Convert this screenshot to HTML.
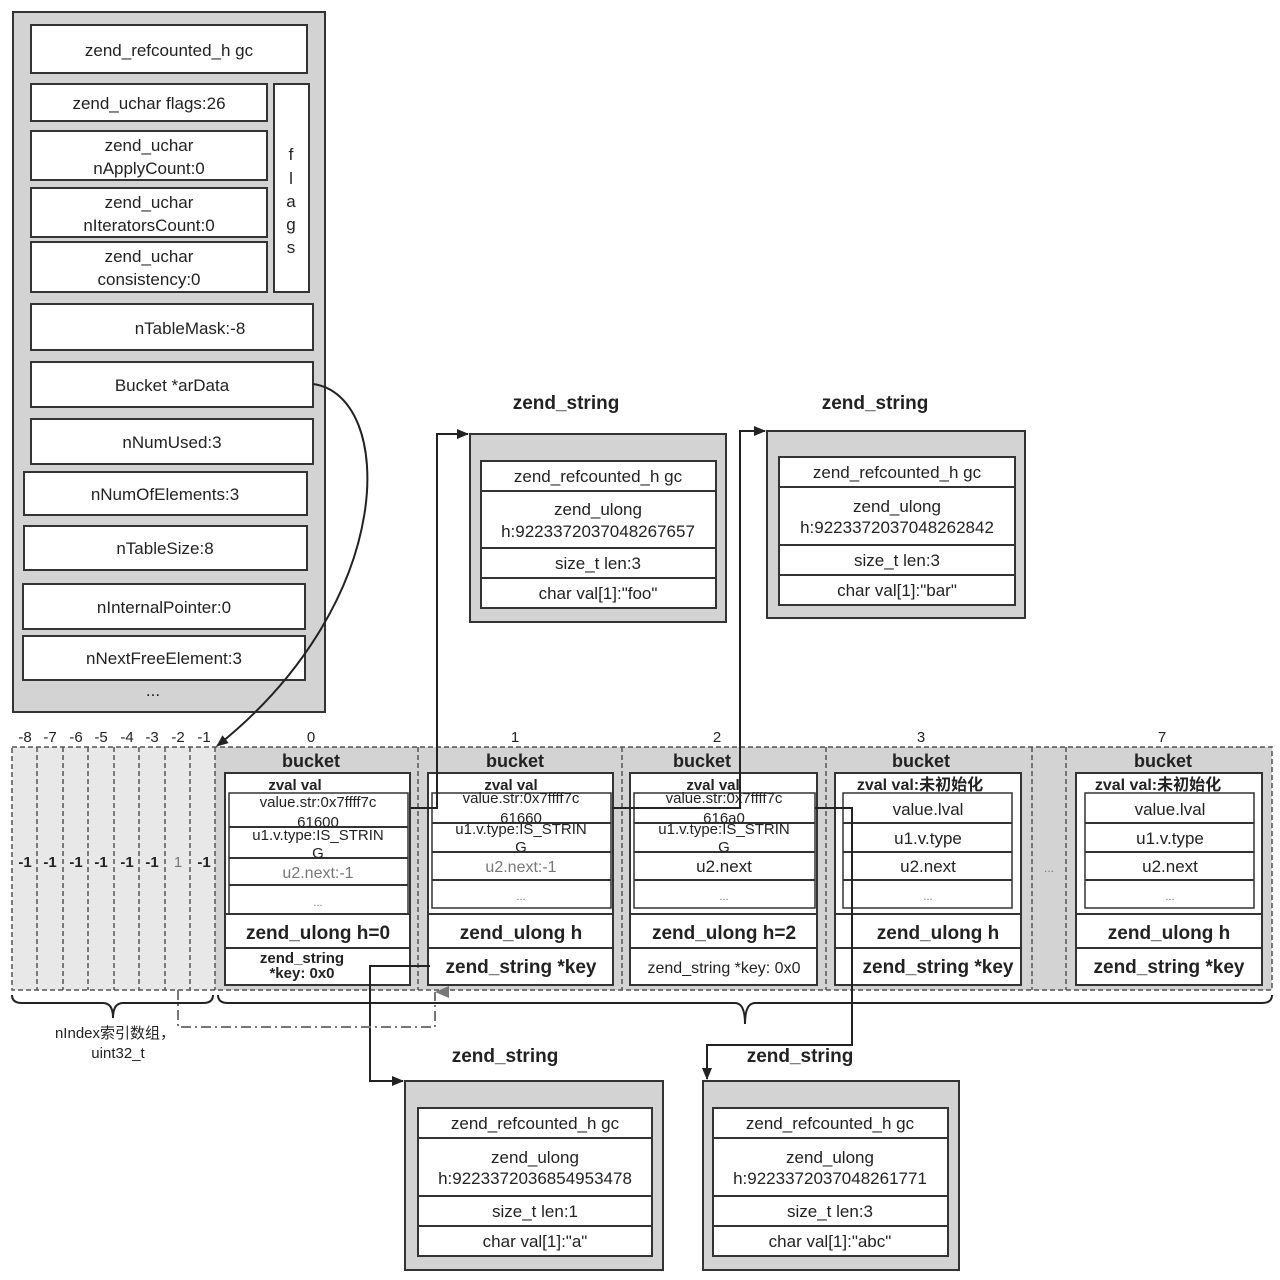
<!DOCTYPE html>
<html><head><meta charset="utf-8"><style>
html,body{margin:0;padding:0;background:#fff;}
svg{display:block;font-family:"Liberation Sans","Noto Sans CJK SC",sans-serif;}
.t{font-size:17px;fill:#222;text-anchor:middle;}
.g{font-size:16px;fill:#777;text-anchor:middle;}
.b{font-size:18px;font-weight:bold;fill:#222;text-anchor:middle;}
.bb{font-size:19px;font-weight:bold;fill:#222;text-anchor:middle;}
.s{font-size:15px;font-weight:bold;fill:#222;text-anchor:middle;}
.w{fill:#fff;stroke:#333;stroke-width:2;}
.p{fill:#d3d3d3;stroke:#333;stroke-width:2;}
.d{fill:none;stroke:#555;stroke-width:1.5;stroke-dasharray:5,3;}
.l{fill:none;stroke:#222;stroke-width:2;}
</style></head><body>
<svg width="1280" height="1280" viewBox="0 0 1280 1280" xmlns="http://www.w3.org/2000/svg">
<defs>
<marker id="ar" markerWidth="12" markerHeight="10" refX="11" refY="5" orient="auto" markerUnits="userSpaceOnUse"><path d="M0,0 L12,5 L0,10 z" fill="#222"/></marker>
<marker id="ag" markerWidth="12" markerHeight="14" refX="6" refY="0" orient="auto" markerUnits="userSpaceOnUse"><path d="M0,14 L6,0 L12,14 z" fill="#777"/></marker>
</defs>

<!-- top-left HashTable struct -->
<rect x="13" y="12" width="312" height="700" class="p"/>
<rect x="31" y="25" width="276" height="48" class="w"/><text x="169" y="56" class="t">zend_refcounted_h gc</text>
<rect x="31" y="84" width="236" height="37" class="w"/><text x="149" y="109" class="t">zend_uchar flags:26</text>
<rect x="31" y="131" width="236" height="49" class="w"/><text x="149" y="151" class="t">zend_uchar</text><text x="149" y="174" class="t">nApplyCount:0</text>
<rect x="31" y="188" width="236" height="49" class="w"/><text x="149" y="208" class="t">zend_uchar</text><text x="149" y="231" class="t">nIteratorsCount:0</text>
<rect x="31" y="242" width="236" height="50" class="w"/><text x="149" y="262" class="t">zend_uchar</text><text x="149" y="285" class="t">consistency:0</text>
<rect x="274" y="84" width="35" height="208" class="w"/>
<text x="291" y="160" class="t">f</text><text x="291" y="184" class="t">l</text><text x="291" y="207" class="t">a</text><text x="291" y="230" class="t">g</text><text x="291" y="253" class="t">s</text>
<rect x="31" y="304" width="282" height="46" class="w"/><text x="190" y="334" class="t">nTableMask:-8</text>
<rect x="31" y="362" width="282" height="45" class="w"/><text x="172" y="391" class="t">Bucket *arData</text>
<rect x="31" y="419" width="282" height="45" class="w"/><text x="172" y="448" class="t">nNumUsed:3</text>
<rect x="24" y="472" width="283" height="43" class="w"/><text x="165" y="500" class="t">nNumOfElements:3</text>
<rect x="24" y="526" width="283" height="44" class="w"/><text x="165" y="554" class="t">nTableSize:8</text>
<rect x="23" y="584" width="282" height="45" class="w"/><text x="164" y="613" class="t">nInternalPointer:0</text>
<rect x="23" y="636" width="282" height="44" class="w"/><text x="164" y="664" class="t">nNextFreeElement:3</text>
<text x="153" y="696" class="t">...</text>

<!-- zend_string boxes -->
<text x="566" y="409" class="bb">zend_string</text>
<rect x="470" y="434" width="256" height="188" class="p"/>
<rect x="481" y="461" width="235" height="30" class="w"/><text x="598" y="482" class="t">zend_refcounted_h gc</text>
<rect x="481" y="491" width="235" height="57" class="w"/><text x="598" y="515" class="t">zend_ulong</text><text x="598" y="537" class="t">h:9223372037048267657</text>
<rect x="481" y="548" width="235" height="30" class="w"/><text x="598" y="569" class="t">size_t len:3</text>
<rect x="481" y="578" width="235" height="30" class="w"/><text x="598" y="599" class="t">char val[1]:"foo"</text>

<text x="875" y="409" class="bb">zend_string</text>
<rect x="767" y="431" width="258" height="187" class="p"/>
<rect x="779" y="457" width="236" height="30" class="w"/><text x="897" y="478" class="t">zend_refcounted_h gc</text>
<rect x="779" y="487" width="236" height="58" class="w"/><text x="897" y="512" class="t">zend_ulong</text><text x="897" y="533" class="t">h:9223372037048262842</text>
<rect x="779" y="545" width="236" height="30" class="w"/><text x="897" y="566" class="t">size_t len:3</text>
<rect x="779" y="575" width="236" height="30" class="w"/><text x="897" y="596" class="t">char val[1]:"bar"</text>

<text x="505" y="1062" class="bb">zend_string</text>
<rect x="405" y="1081" width="258" height="189" class="p"/>
<rect x="418" y="1108" width="234" height="30" class="w"/><text x="535" y="1129" class="t">zend_refcounted_h gc</text>
<rect x="418" y="1138" width="234" height="58" class="w"/><text x="535" y="1163" class="t">zend_ulong</text><text x="535" y="1184" class="t">h:9223372036854953478</text>
<rect x="418" y="1196" width="234" height="30" class="w"/><text x="535" y="1217" class="t">size_t len:1</text>
<rect x="418" y="1226" width="234" height="30" class="w"/><text x="535" y="1247" class="t">char val[1]:"a"</text>

<text x="800" y="1062" class="bb">zend_string</text>
<rect x="703" y="1081" width="256" height="189" class="p"/>
<rect x="713" y="1108" width="235" height="30" class="w"/><text x="830" y="1129" class="t">zend_refcounted_h gc</text>
<rect x="713" y="1138" width="235" height="58" class="w"/><text x="830" y="1163" class="t">zend_ulong</text><text x="830" y="1184" class="t">h:9223372037048261771</text>
<rect x="713" y="1196" width="235" height="30" class="w"/><text x="830" y="1217" class="t">size_t len:3</text>
<rect x="713" y="1226" width="235" height="30" class="w"/><text x="830" y="1247" class="t">char val[1]:"abc"</text>

<!-- array area -->
<rect x="12" y="747" width="203" height="243" fill="#e8e8e8"/>
<rect x="215" y="747" width="1057" height="243" fill="#d3d3d3"/>
<rect x="12" y="747" width="1260" height="243" class="d"/>
<g class="d">
<line x1="37" y1="747" x2="37" y2="990"/><line x1="63" y1="747" x2="63" y2="990"/><line x1="88" y1="747" x2="88" y2="990"/><line x1="114" y1="747" x2="114" y2="990"/><line x1="139" y1="747" x2="139" y2="990"/><line x1="165" y1="747" x2="165" y2="990"/><line x1="190" y1="747" x2="190" y2="990"/><line x1="215" y1="747" x2="215" y2="990"/>
<line x1="418" y1="747" x2="418" y2="990"/><line x1="622" y1="747" x2="622" y2="990"/><line x1="826" y1="747" x2="826" y2="990"/><line x1="1032" y1="747" x2="1032" y2="990"/><line x1="1066" y1="747" x2="1066" y2="990"/>
</g>
<g class="t" style="font-size:15px">
<text x="25" y="742">-8</text><text x="50" y="742">-7</text><text x="76" y="742">-6</text><text x="101" y="742">-5</text><text x="127" y="742">-4</text><text x="152" y="742">-3</text><text x="178" y="742">-2</text><text x="204" y="742">-1</text>
<text x="311" y="742">0</text><text x="515" y="742">1</text><text x="717" y="742">2</text><text x="921" y="742">3</text><text x="1162" y="742">7</text>
</g>
<g class="s">
<text x="25" y="867">-1</text><text x="50" y="867">-1</text><text x="76" y="867">-1</text><text x="101" y="867">-1</text><text x="127" y="867">-1</text><text x="152" y="867">-1</text><text x="178" y="867" style="fill:#777;font-weight:normal">1</text><text x="204" y="867">-1</text>
</g>
<text x="1049" y="872" class="g" style="font-size:12px">...</text>

<!-- bucket 0 -->
<text x="311" y="767" class="b">bucket</text>
<rect x="225" y="773" width="185" height="212" class="w"/>
<text x="295" y="790" class="s">zval val</text>
<rect x="229" y="793" width="179" height="121" class="w" style="stroke-width:1.5"/>
<line x1="229" y1="827" x2="408" y2="827" stroke="#333" stroke-width="2"/><line x1="229" y1="858" x2="408" y2="858" stroke="#333" stroke-width="2"/><line x1="229" y1="885" x2="408" y2="885" stroke="#333" stroke-width="2"/>
<text x="318" y="807" class="t" style="font-size:15px">value.str:0x7ffff7c</text><text x="318" y="827" class="t" style="font-size:15px">61600</text>
<text x="318" y="840" class="t" style="font-size:15px">u1.v.type:IS_STRIN</text><text x="318" y="858" class="t" style="font-size:15px">G</text>
<text x="318" y="878" class="g">u2.next:-1</text><text x="318" y="906" class="g" style="font-size:11px">...</text>
<line x1="225" y1="948" x2="410" y2="948" stroke="#333" stroke-width="2"/><line x1="225" y1="914" x2="410" y2="914" stroke="#333" stroke-width="2"/>
<text x="318" y="939" class="bb">zend_ulong h=0</text>
<text x="302" y="963" class="s">zend_string</text><text x="302" y="978" class="s">*key: 0x0</text>

<!-- bucket 1 -->
<text x="515" y="767" class="b">bucket</text>
<rect x="428" y="773" width="185" height="212" class="w"/>
<text x="511" y="790" class="s">zval val</text>
<rect x="432" y="793" width="179" height="115" class="w" style="stroke-width:1.5"/>
<line x1="432" y1="823" x2="611" y2="823" stroke="#333" stroke-width="2"/><line x1="432" y1="852" x2="611" y2="852" stroke="#333" stroke-width="2"/><line x1="432" y1="880" x2="611" y2="880" stroke="#333" stroke-width="2"/>
<text x="521" y="803" class="t" style="font-size:15px">value.str:0x7ffff7c</text><text x="521" y="823" class="t" style="font-size:15px">61660</text>
<text x="521" y="834" class="t" style="font-size:15px">u1.v.type:IS_STRIN</text><text x="521" y="852" class="t" style="font-size:15px">G</text>
<text x="521" y="872" class="g">u2.next:-1</text><text x="521" y="900" class="g" style="font-size:11px">...</text>
<line x1="428" y1="914" x2="613" y2="914" stroke="#333" stroke-width="2"/><line x1="428" y1="948" x2="613" y2="948" stroke="#333" stroke-width="2"/>
<text x="521" y="939" class="bb">zend_ulong h</text>
<text x="521" y="973" class="bb">zend_string *key</text>

<!-- bucket 2 -->
<text x="702" y="767" class="b">bucket</text>
<rect x="630" y="773" width="187" height="212" class="w"/>
<text x="713" y="790" class="s">zval val</text>
<rect x="634" y="793" width="181" height="115" class="w" style="stroke-width:1.5"/>
<line x1="634" y1="823" x2="815" y2="823" stroke="#333" stroke-width="2"/><line x1="634" y1="852" x2="815" y2="852" stroke="#333" stroke-width="2"/><line x1="634" y1="880" x2="815" y2="880" stroke="#333" stroke-width="2"/>
<text x="724" y="803" class="t" style="font-size:15px">value.str:0x7ffff7c</text><text x="724" y="823" class="t" style="font-size:15px">616a0</text>
<text x="724" y="834" class="t" style="font-size:15px">u1.v.type:IS_STRIN</text><text x="724" y="852" class="t" style="font-size:15px">G</text>
<text x="724" y="872" class="t">u2.next</text><text x="724" y="900" class="g" style="font-size:11px">...</text>
<line x1="630" y1="914" x2="817" y2="914" stroke="#333" stroke-width="2"/><line x1="630" y1="948" x2="817" y2="948" stroke="#333" stroke-width="2"/>
<text x="724" y="939" class="bb">zend_ulong h=2</text>
<text x="724" y="973" class="t" style="font-size:16px">zend_string *key: 0x0</text>

<!-- bucket 3 -->
<text x="921" y="767" class="b">bucket</text>
<rect x="835" y="773" width="186" height="212" class="w"/>
<text x="920" y="790" class="s" style="font-size:16px">zval val:未初始化</text>
<rect x="843" y="793" width="169" height="115" class="w" style="stroke-width:1.5"/>
<line x1="843" y1="823" x2="1012" y2="823" stroke="#333" stroke-width="2"/><line x1="843" y1="852" x2="1012" y2="852" stroke="#333" stroke-width="2"/><line x1="843" y1="880" x2="1012" y2="880" stroke="#333" stroke-width="2"/>
<text x="928" y="815" class="t">value.lval</text><text x="928" y="844" class="t">u1.v.type</text><text x="928" y="872" class="t">u2.next</text><text x="928" y="900" class="g" style="font-size:11px">...</text>
<line x1="835" y1="914" x2="1021" y2="914" stroke="#333" stroke-width="2"/><line x1="835" y1="948" x2="1021" y2="948" stroke="#333" stroke-width="2"/>
<text x="938" y="939" class="bb">zend_ulong h</text>
<text x="938" y="973" class="bb">zend_string *key</text>

<!-- bucket 7 -->
<text x="1163" y="767" class="b">bucket</text>
<rect x="1076" y="773" width="186" height="212" class="w"/>
<text x="1158" y="790" class="s" style="font-size:16px">zval val:未初始化</text>
<rect x="1085" y="793" width="169" height="115" class="w" style="stroke-width:1.5"/>
<line x1="1085" y1="823" x2="1254" y2="823" stroke="#333" stroke-width="2"/><line x1="1085" y1="852" x2="1254" y2="852" stroke="#333" stroke-width="2"/><line x1="1085" y1="880" x2="1254" y2="880" stroke="#333" stroke-width="2"/>
<text x="1170" y="815" class="t">value.lval</text><text x="1170" y="844" class="t">u1.v.type</text><text x="1170" y="872" class="t">u2.next</text><text x="1170" y="900" class="g" style="font-size:11px">...</text>
<line x1="1076" y1="914" x2="1262" y2="914" stroke="#333" stroke-width="2"/><line x1="1076" y1="948" x2="1262" y2="948" stroke="#333" stroke-width="2"/>
<text x="1169" y="939" class="bb">zend_ulong h</text>
<text x="1169" y="973" class="bb">zend_string *key</text>

<!-- braces -->
<path d="M12,995 Q12,1003 22,1003 L103,1003 Q113,1003 113,1018 Q113,1003 123,1003 L203,1003 Q213,1003 213,995" class="l"/>
<path d="M218,995 Q218,1003 228,1003 L735,1003 Q745,1003 745,1024 Q745,1003 755,1003 L1262,1003 Q1272,1003 1272,995" class="l"/>
<text x="115" y="1038" class="t" style="font-size:15px">nIndex索引数组，</text>
<text x="118" y="1058" class="t" style="font-size:15px">uint32_t</text>

<!-- connectors -->
<path d="M313,384 C395,395 400,600 217,746" class="l" marker-end="url(#ar)"/>
<polyline points="410,808 437,808 437,434 468,434" class="l" marker-end="url(#ar)"/>
<polyline points="612,808 740,808 740,431 765,431" class="l" marker-end="url(#ar)"/>
<polyline points="815,808 852,808 852,1045 707,1045 707,1079" class="l" marker-end="url(#ar)"/>
<polyline points="430,966 370,966 370,1081 403,1081" class="l" marker-end="url(#ar)"/>
<polyline points="178,990 178,1027 435,1027 435,992" fill="none" stroke="#777" stroke-width="2" stroke-dasharray="10,4,2,4" marker-end="url(#ag)"/>
</svg>
</body></html>
